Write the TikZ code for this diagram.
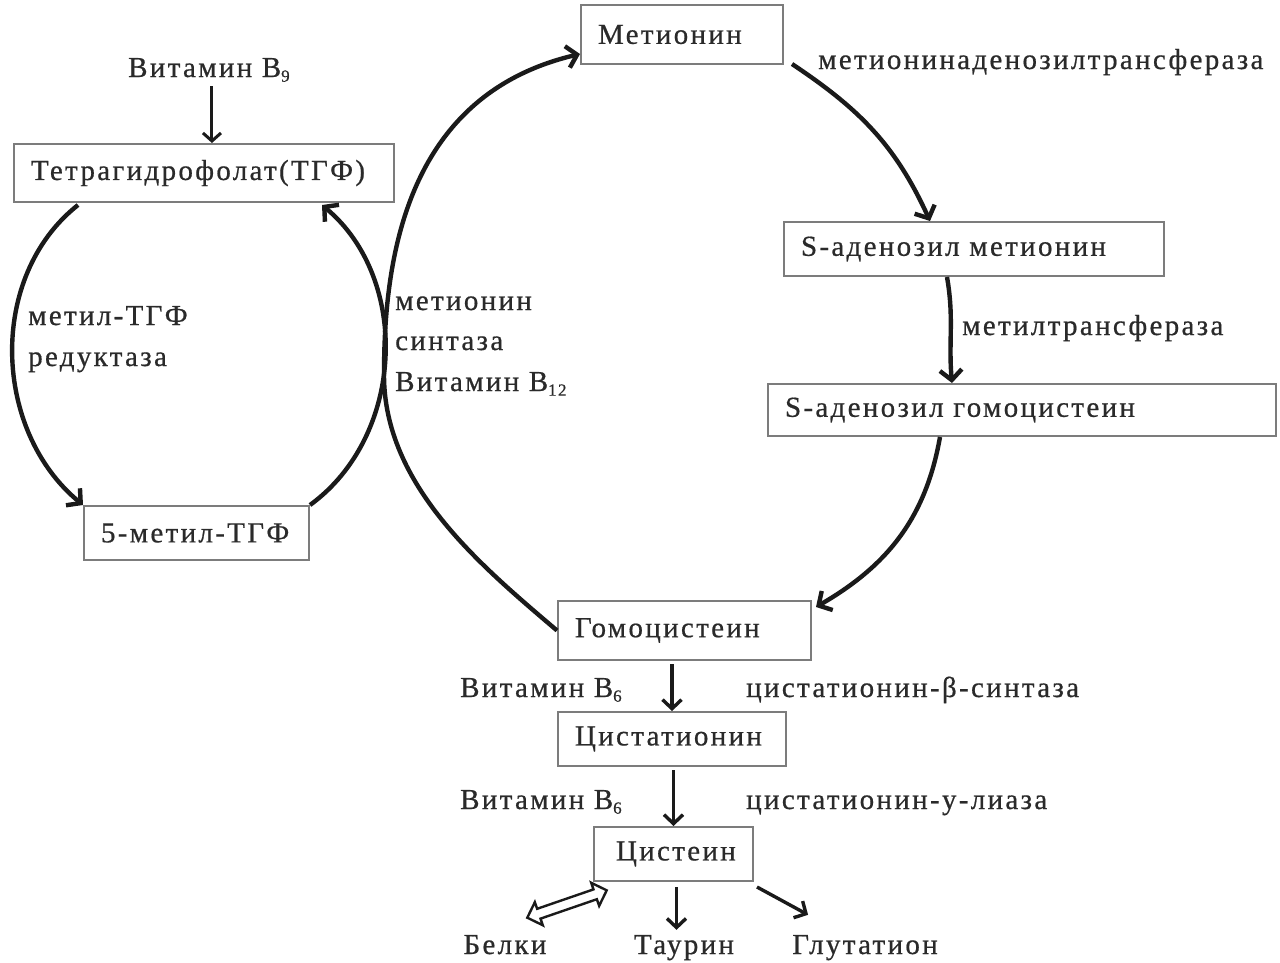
\documentclass[tikz,border=0pt]{standalone}
\usepackage{fontspec}
\setmainfont{Liberation Serif}[LetterSpace=8,FakeBold=0.6]
\usetikzlibrary{arrows.meta,calc,shapes.arrows}
\definecolor{txt}{HTML}{2A2A2A}
\definecolor{boxc}{HTML}{7C7C7C}
\definecolor{arrc}{HTML}{1A1A1A}
\newcommand{\vsub}[1]{\raisebox{-0.35ex}{\fontsize{17}{17}\selectfont #1}}
\begin{document}
\begin{tikzpicture}[x=1pt,y=1pt,
  every node/.style={text=txt, font=\fontsize{29}{34}\selectfont},
  box/.style={draw=boxc, line width=2pt, anchor=north west, inner xsep=17pt, inner ysep=0pt, align=left},
  lbl/.style={inner sep=0pt, anchor=base west},
  lblc/.style={inner sep=0pt, anchor=base},
  conn/.style={draw=arrc, line width=4.4pt, -{Straight Barb[length=10pt,width=22pt]}},
  thinarr/.style={draw=arrc, line width=3.4pt, -{Straight Barb[length=9pt,width=19pt]}},
  fine/.style={draw=arrc, line width=3pt, -{Straight Barb[length=8pt,width=18pt]}}
]
\useasboundingbox (0,0) rectangle (1280,-962);
\fill[white] (0,0) rectangle (1280,-962);

% boxes
\node[box, text width=168pt, minimum height=59pt] (met) at (580,-4) {Метионин};
\node[box, text width=346pt, minimum height=58pt] (thf) at (13,-143) {Тетрагидрофолат(ТГФ)};
\node[box, text width=191pt, minimum height=54pt] (mthf) at (83,-505) {5-метил-ТГФ};
\node[box, text width=346pt, minimum height=54pt] (sam) at (783,-221) {S-аденозил метионин};
\node[box, text width=474pt, minimum height=52pt] (sah) at (767,-383) {S-аденозил гомоцистеин};
\node[box, text width=219pt, minimum height=59pt] (hcy) at (557,-600) {Гомоцистеин};
\node[box, text width=194pt, minimum height=54pt] (cth) at (557,-711) {Цистатионин};
\node[box, inner xsep=22pt, text width=115pt, minimum height=54pt] (cys) at (593,-826) {Цистеин};

% labels
\node[lbl] (vb9) at (128,-77) {Витамин B\vsub{9}};
\node[lbl] (mr1) at (28,-325) {метил-ТГФ};
\node[lbl] (mr2) at (28,-366) {редуктаза};
\node[lbl] (ms1) at (395,-310) {метионин};
\node[lbl] (ms2) at (395,-350) {синтаза};
\node[lbl] (ms3) at (395,-391) {Витамин B\vsub{12}};
\node[lbl] (mat) at (818,-69) {метионинаденозилтрансфераза};
\node[lbl] (mtr) at (962,-335) {метилтрансфераза};
\node[lbl] (vb6a) at (460,-697) {Витамин B\vsub{6}};
\node[lbl] (cbs) at (746,-697) {цистатионин-β-синтаза};
\node[lbl] (vb6b) at (460,-809) {Витамин B\vsub{6}};
\node[lbl] (cgl) at (746,-809) {цистатионин-у-лиаза};
\node[lblc] (bel) at (505,-954) {Белки};
\node[lblc] (tau) at (684,-954) {Таурин};
\node[lblc] (glu) at (865,-954) {Глутатион};

% folate cycle
\draw[fine] ($(vb9.south)+(3,-4)$) -- ($(vb9.south |- thf.north)+(3,0)$);
\draw[conn] ($(thf.south west)+(65,-2)$) .. controls (-13,-277) and (-7,-431) .. (mthf.north west);
\draw[conn] (mthf.north east) .. controls (405,-436) and (411,-279) .. ($(thf.south east)+(-73,-2)$);

% methionine cycle
\draw[conn] (hcy.west) .. controls (480,-565) and (384,-485) .. (384,-375)
  .. controls (384,-260) and (405,-95) .. ($(met.south west)+(0,11)$);
\draw[conn] ($(met.south east)+(8,1)$) .. controls (858,-108) and (895,-144) .. ($(sam.north west)+(147,0)$);
\draw[conn] ($(sam.south west)+(164,0)$) to[out=-80,in=95] ($(sah.north west)+(185,0)$);
\draw[conn] ($(sah.south west)+(173,0)$) to[out=-100,in=30] ($(hcy.north east)+(4,-7)$);

% transsulfuration
\draw[thinarr] ($(cth.north |- hcy.south)+(0,-3)$) -- (cth.north);
\draw[thinarr] ($(cys.north |- cth.south)+(0,-3)$) -- (cys.north);
\draw[thinarr] ($(cys.south)+(3,-5)$) -- ($(cys.south |- tau.north)+(3,5)$);
\draw[thinarr] ($(cys.south east)+(3,-5)$) -- ($(glu.north west)+(16,20)$);
\node[double arrow, draw=arrc, line width=2.4pt, fill=white, minimum height=84pt,
  inner sep=4pt, double arrow head extend=7pt, rotate=19] (belarr)
  at ($(cys.south west)+(-26,-22)$) {};
\end{tikzpicture}
\end{document}
